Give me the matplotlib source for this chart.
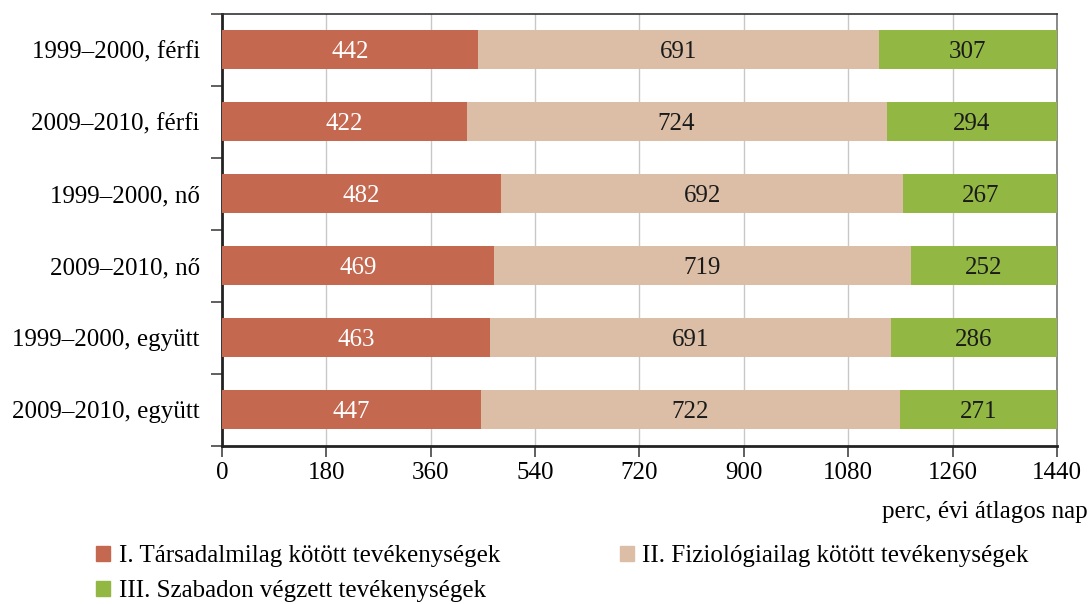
import matplotlib
matplotlib.use("Agg")
import matplotlib.pyplot as plt
from matplotlib.patches import Patch
import numpy as np

categories = ["1999–2000, férfi", "2009–2010, férfi", "1999–2000, nő",
              "2009–2010, nő", "1999–2000, együtt", "2009–2010, együtt"]
social = [442, 422, 482, 469, 463, 447]
physio = [691, 724, 692, 719, 691, 722]
free = [307, 294, 267, 252, 286, 271]
series_names = ["I. Társadalmilag kötött tevékenységek",
                "II. Fiziológiailag kötött tevékenységek",
                "III. Szabadon végzett tevékenységek"]
colors = ["#C46850", "#DBBEA5", "#92B743"]
xticks = [0, 180, 360, 540, 720, 900, 1080, 1260, 1440]
xlabel = "perc, évi átlagos nap"

plt.rcParams['font.family'] = ['Liberation Serif', 'DejaVu Serif']
fs = 18

fig = plt.figure(figsize=(10.92, 6.04), dpi=100)
ax = fig.add_axes([222/1092, 1 - 445.5/604, (1057-222)/1092, (445.5-13.5)/604])

y = np.arange(len(categories))
h = 0.55
left = np.zeros(len(categories))
for vals, c, name in zip([social, physio, free], colors, series_names):
    vals = np.array(vals)
    ax.barh(y, vals, left=left, height=h, color=c, zorder=3, label=name)
    for yi, l, v in zip(y, left, vals):
        ax.text(l + v/2, yi, str(v), ha='center', va='center_baseline', fontsize=fs,
                color='white' if c == colors[0] else '#1a1a1a', zorder=4)
    left = left + vals

ax.set_ylim(len(categories) - 0.5, -0.5)
ax.set_xlim(0, 1440)
ax.set_xticks(xticks)
ax.set_xticklabels([str(t) for t in xticks], fontsize=fs)
ax.set_yticks(y)
ax.set_yticklabels(categories, fontsize=fs)
ax.tick_params(axis='y', length=0, pad=16)
ax.set_yticks(np.arange(-0.5, len(categories), 1), minor=True)
ax.tick_params(axis='y', which='minor', length=8, width=1.2, color='#444444')
ax.tick_params(axis='x', length=8, width=1.2, color='#444444', pad=4, direction='out')
ax.grid(axis='x', color='#c8c8c8', linewidth=1, zorder=0)
ax.spines['top'].set_linewidth(1.2)
ax.spines['top'].set_color('#333333')
ax.spines['right'].set_linewidth(1.2)
ax.spines['right'].set_color('#777777')
for s in ['left', 'bottom']:
    ax.spines[s].set_linewidth(2)
    ax.spines[s].set_color('#222222')

fig.text(1088/1092, 1 - 512/604, xlabel, ha='right', va='center', fontsize=fs)

handles = [Patch(color=c) for c in colors]
order = [0, 2, 1]
fig.legend([handles[i] for i in order], [series_names[i] for i in order],
           ncol=2, loc='upper left', bbox_to_anchor=(96/1092, 1 - 545/604),
           frameon=False, fontsize=fs, handlelength=0.55, handleheight=0.55,
           handletextpad=0.35, columnspacing=4.8, labelspacing=0.52,
           borderaxespad=0, borderpad=0)

fig.savefig("out.png", dpi=100)
